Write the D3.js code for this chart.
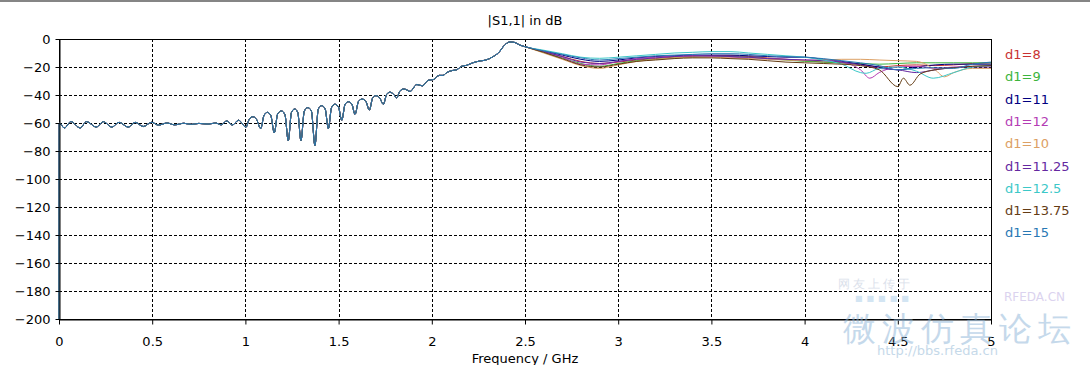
<!DOCTYPE html>
<html>
<head>
<meta charset="utf-8">
<script src="https://cdn.jsdelivr.net/npm/d3@7"></script>
<style>
  body { margin: 0; background: #fff; }
  text { font-family: "DejaVu Sans", Verdana, sans-serif; }
</style>
</head>
<body>
<div class="container"></div>
<script>
// axis ticks
var xTicks = [0, 0.5, 1, 1.5, 2, 2.5, 3, 3.5, 4, 4.5, 5];
var yTicks = [0, -20, -40, -60, -80, -100, -120, -140, -160, -180, -200];

// legend names and colours, same order as the legend
var names = ["d1=8", "d1=9", "d1=11", "d1=12", "d1=10", "d1=11.25", "d1=12.5", "d1=13.75", "d1=15"];
var colors = ["#c83232", "#3cb43c", "#000080", "#b43cb4", "#dca064", "#6428a0", "#3cc8c8", "#643c14", "#2878b4"];

// below 2.5 GHz all curves lie on top of each other: [GHz, dB]
var shared = [
  [0, -200], [0.001, -60], [0.029, -63.6], [0.064, -59], [0.113, -63.5], [0.148, -59],
  [0.2, -63], [0.238, -59], [0.283, -63], [0.322, -59.5], [0.372, -63], [0.408, -59.5],
  [0.452, -62.5], [0.497, -59.5], [0.533, -61.5], [0.58, -60], [0.62, -61.3], [0.67, -60.2],
  [0.71, -61], [0.75, -60.3], [0.8, -60.8], [0.84, -60], [0.87, -61.3], [0.9, -58.5],
  [0.93, -61.5], [0.963, -58], [1.003, -63],
  [1.02, -57.5], [1.04, -55.5], [1.06, -57.5], [1.082, -64],
  [1.1, -54.5], [1.118, -52.4], [1.136, -54.5], [1.155, -67],
  [1.173, -53.5], [1.193, -51.4], [1.212, -54], [1.23, -72.6],
  [1.247, -52.5], [1.264, -50], [1.281, -52.5], [1.298, -72.6],
  [1.316, -51.5], [1.335, -49], [1.354, -51.5], [1.373, -76],
  [1.391, -50], [1.41, -47.6], [1.428, -50], [1.445, -64],
  [1.462, -49], [1.48, -46.6], [1.499, -48.5], [1.517, -58],
  [1.535, -46.5], [1.553, -44.8], [1.571, -46.5], [1.588, -53.8],
  [1.607, -44.5], [1.626, -42.9], [1.646, -44.5], [1.665, -50.7],
  [1.683, -42], [1.7, -40.5], [1.72, -42], [1.74, -46.6],
  [1.758, -39.5], [1.776, -38], [1.795, -39.5], [1.811, -42],
  [1.83, -37], [1.85, -35.7], [1.868, -36.5], [1.883, -37.5],
  [1.92, -32.5], [1.95, -33.5], [1.98, -29.5], [2.008, -29], [2.04, -26], [2.06, -26],
  [2.08, -24], [2.11, -22.5], [2.133, -22], [2.16, -19.5], [2.187, -18.8], [2.22, -17],
  [2.259, -15.7], [2.28, -15.3], [2.31, -14], [2.33, -12.5], [2.357, -10], [2.393, -4],
  [2.42, -2.1], [2.446, -2.5], [2.47, -4.2]
];

// from 2.5 GHz on the curves split up: [GHz, dB]
var tail8 = [[2.5,-5.5],[2.6,-9],[2.7,-12.5],[2.8,-16],[2.9,-17.5],[3.0,-16.5],[3.1,-15],[3.2,-14],[3.3,-13],[3.4,-12.5],[3.5,-12],[3.6,-12],[3.7,-12.5],[3.8,-13.5],[3.9,-14.5],[4.0,-15.5],[4.1,-16.5],[4.2,-17],[4.3,-18],[4.4,-20],[4.5,-19],[4.6,-18.5],[4.7,-19],[4.8,-18.5],[4.9,-17.5],[5.0,-17]];
var tail9 = [[2.5,-5.5],[2.6,-9.5],[2.7,-13.5],[2.8,-17.5],[2.9,-19.5],[3.0,-17.5],[3.1,-15.5],[3.2,-14.5],[3.3,-13.5],[3.4,-13],[3.5,-12.5],[3.6,-12.5],[3.7,-13],[3.8,-14],[3.9,-15],[4.0,-16],[4.1,-16.5],[4.2,-17],[4.3,-17.5],[4.4,-18],[4.5,-17.5],[4.6,-17],[4.7,-17],[4.8,-17],[4.9,-17],[5.0,-17]];
var tail11 = [[2.5,-5.5],[2.6,-8.5],[2.7,-11.5],[2.8,-14.5],[2.9,-16],[3.0,-15],[3.1,-13.5],[3.2,-12.5],[3.3,-12],[3.4,-11.5],[3.5,-11.5],[3.6,-11.5],[3.7,-12],[3.8,-12.5],[3.9,-13],[4.0,-13],[4.1,-14.5],[4.2,-16],[4.3,-18],[4.4,-20],[4.5,-22],[4.6,-20],[4.7,-18.5],[4.8,-18],[4.9,-18],[5.0,-18]];
var tail12 = [[2.5,-5.5],[2.6,-9],[2.7,-13],[2.8,-18],[2.9,-18.5],[3.0,-16],[3.1,-14],[3.2,-13],[3.3,-12.5],[3.4,-12],[3.5,-12.5],[3.6,-13],[3.7,-13.5],[3.8,-14],[3.9,-14.5],[4.0,-15],[4.1,-15],[4.2,-16.5],[4.3,-22],[4.35,-28],[4.4,-24],[4.5,-20],[4.6,-19.5],[4.7,-21],[4.8,-20],[4.9,-19.5],[5.0,-19]];
var tail10 = [[2.5,-5.5],[2.6,-10],[2.7,-14.5],[2.8,-19],[2.9,-21],[3.0,-18.5],[3.1,-16],[3.2,-14.5],[3.3,-13.5],[3.4,-13],[3.5,-13],[3.6,-13.5],[3.7,-14],[3.8,-14.5],[3.9,-15],[4.0,-15.5],[4.1,-15],[4.2,-14.5],[4.3,-14.5],[4.4,-15],[4.5,-15.5],[4.6,-16],[4.7,-22],[4.75,-27],[4.8,-24],[4.9,-21],[5.0,-21]];
var tail1125 = [[2.5,-5.5],[2.6,-9],[2.7,-12.5],[2.8,-16.5],[2.9,-17.5],[3.0,-16],[3.1,-14.5],[3.2,-13.5],[3.3,-12.5],[3.4,-12],[3.5,-12],[3.6,-12.5],[3.7,-13],[3.8,-14],[3.9,-14.5],[4.0,-15],[4.1,-15.5],[4.2,-16.5],[4.3,-18.5],[4.4,-21],[4.5,-22],[4.6,-24],[4.7,-22],[4.8,-20.5],[4.9,-20],[5.0,-20]];
var tail125 = [[2.5,-5.5],[2.6,-8],[2.7,-10.5],[2.8,-13],[2.9,-13.8],[3.0,-13],[3.1,-12],[3.2,-11],[3.3,-10],[3.4,-9.5],[3.5,-9],[3.6,-9],[3.7,-10],[3.8,-11],[3.9,-12],[4.0,-13],[4.1,-15],[4.2,-18],[4.3,-24],[4.33,-24.5],[4.4,-21],[4.5,-20],[4.6,-23],[4.69,-28],[4.8,-24],[4.9,-20],[5.0,-19]];
var tail1375 = [[2.5,-5.5],[2.6,-9.5],[2.7,-14],[2.8,-18.5],[2.9,-20],[3.0,-18],[3.1,-16],[3.2,-15],[3.3,-14],[3.4,-13.5],[3.5,-13.5],[3.6,-14],[3.7,-14.5],[3.8,-15.5],[3.9,-16.5],[4.0,-17],[4.1,-17.5],[4.2,-18],[4.3,-19],[4.4,-22],[4.5,-34],[4.53,-28],[4.565,-33],[4.62,-25],[4.7,-22],[4.8,-20.5],[4.9,-19.5],[5.0,-19]];
var tail15 = [[2.5,-5.5],[2.6,-8.5],[2.7,-11],[2.8,-13.5],[2.9,-15],[3.0,-14],[3.1,-13],[3.2,-12],[3.3,-11.5],[3.4,-11],[3.5,-10.5],[3.6,-10.5],[3.7,-11],[3.8,-12],[3.9,-12.5],[4.0,-13],[4.1,-14],[4.2,-15.5],[4.3,-17],[4.4,-19],[4.5,-22],[4.6,-21],[4.7,-20.5],[4.8,-21],[4.9,-18],[5.0,-16.5]];

var tails = [tail8, tail9, tail11, tail12, tail10, tail1125, tail125, tail1375, tail15];

var width = 1090, height = 365;
var margin = {left: 59, top: 39, right: 99, bottom: 46};

var svg = d3.select(".container").append("svg")
    .attr("width", width).attr("height", height);

// grey window edge at the very top
svg.append("rect").attr("x", 0).attr("y", 0).attr("width", width).attr("height", 2).attr("fill", "#858585");

var x = d3.scaleLinear().domain([0, 5]).range([margin.left, width - margin.right]);
var y = d3.scaleLinear().domain([-200, 0]).range([height - margin.bottom, margin.top]);

// dashed grid
var grid = svg.append("g").attr("stroke", "#000").attr("stroke-dasharray", "3,2").attr("stroke-width", 1);
grid.selectAll("line.v").data(xTicks.slice(1, -1)).enter().append("line")
    .attr("x1", function(d) { return Math.round(x(d)) + 0.5; })
    .attr("x2", function(d) { return Math.round(x(d)) + 0.5; })
    .attr("y1", y(0)).attr("y2", y(-200));
grid.selectAll("line.h").data(yTicks.slice(1, -1)).enter().append("line")
    .attr("y1", function(d) { return Math.round(y(d)) + 0.5; })
    .attr("y2", function(d) { return Math.round(y(d)) + 0.5; })
    .attr("x1", x(0)).attr("x2", x(5));

// top and right frame lines
svg.append("rect")
    .attr("x", x(0) + 0.5).attr("y", y(0) + 0.5)
    .attr("width", x(5) - x(0)).attr("height", y(-200) - y(0))
    .attr("fill", "none").attr("stroke", "#000");

// the curves
var line = d3.line()
    .x(function(d) { return x(d[0]); })
    .y(function(d) { return y(d[1]); })
    .curve(d3.curveMonotoneX);

svg.append("g").selectAll("path").data(tails).enter().append("path")
    .attr("d", function(t) { return line(shared.concat(t)); })
    .attr("fill", "none")
    .attr("stroke", function(t, i) { return colors[i]; })
    .attr("stroke-width", 1);

// axes
var xAxis = svg.append("g")
    .attr("transform", "translate(0," + (y(-200) + 0.5) + ")")
    .call(d3.axisBottom(x).tickValues(xTicks).tickFormat(d3.format("")).tickSize(5).tickPadding(12).tickSizeOuter(0));
var yAxis = svg.append("g")
    .attr("transform", "translate(" + (x(0) + 0.5) + ",0)")
    .call(d3.axisLeft(y).tickValues(yTicks).tickSize(4).tickPadding(5).tickSizeOuter(0));

[xAxis, yAxis].forEach(function(a) {
  a.selectAll("text").attr("font-family", "DejaVu Sans").attr("font-size", 13).attr("fill", "#000");
  a.select(".domain").attr("stroke", "#000");
});

// title and axis label
svg.append("text").attr("x", 525).attr("y", 25).attr("text-anchor", "middle")
    .attr("font-size", 13).text("|S1,1| in dB");
svg.append("text").attr("x", 525).attr("y", 363).attr("text-anchor", "middle")
    .attr("font-size", 13).text("Frequency / GHz");

// legend
svg.append("g").selectAll("text").data(names).enter().append("text")
    .attr("x", 1005)
    .attr("y", function(d, i) { return 59 + i * 22.3; })
    .attr("font-size", 13)
    .attr("fill", function(d, i) { return colors[i]; })
    .text(function(d) { return d; });

// faint forum watermark in the bottom right corner
var wm = svg.append("g").attr("opacity", 0.5);
wm.append("text").attr("x", 838).attr("y", 288).attr("font-family", "Noto Sans CJK SC")
    .attr("font-size", 12).attr("letter-spacing", 3).attr("fill", "#b8c4d8").text("网友上传于");
wm.append("text").attr("x", 855).attr("y", 301).attr("font-size", 8)
    .attr("letter-spacing", 4).attr("fill", "#a8cce8").text("■■■■■");
wm.append("text").attr("x", 1004).attr("y", 301).attr("font-family", "Liberation Sans")
    .attr("font-size", 12).attr("fill", "#b8a8e0").text("RFEDA.CN");
wm.append("text").attr("x", 843).attr("y", 340).attr("font-family", "Noto Sans CJK SC")
    .attr("font-size", 33).attr("letter-spacing", 6).attr("fill", "#8cb4d8").text("微波仿真论坛");
wm.append("text").attr("x", 877).attr("y", 355).attr("font-family", "DejaVu Sans Mono")
    .attr("font-size", 13).attr("fill", "#8cb4d4").text("http://bbs.rfeda.cn");
</script>
